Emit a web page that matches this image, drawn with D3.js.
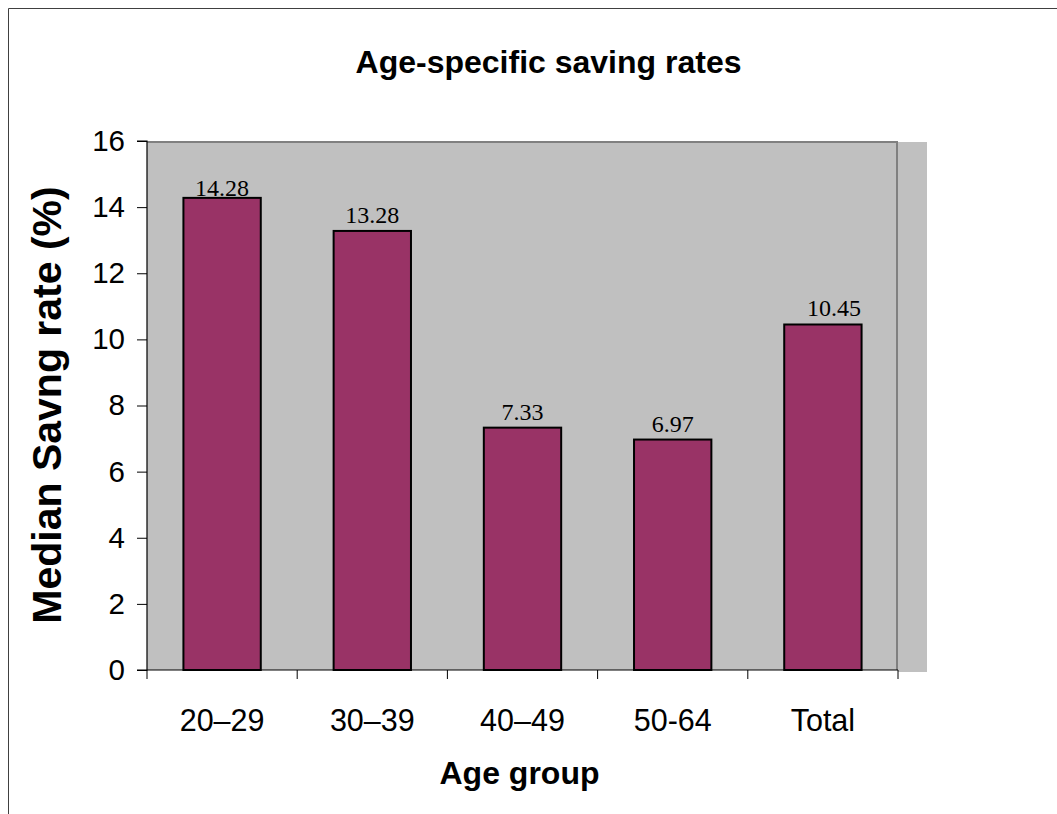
<!DOCTYPE html>
<html>
<head>
<meta charset="utf-8">
<script src="https://cdn.jsdelivr.net/npm/d3@7"></script>
<style>
  html, body { margin: 0; padding: 0; background: #ffffff; }
  svg { display: block; }
</style>
</head>
<body>
<svg id="chart" width="1057" height="814"></svg>
<script>
// Median saving rate by age group
const categories = ["20\u201329", "30\u201339", "40\u201349", "50-64", "Total"];
const values = [14.28, 13.28, 7.33, 6.97, 10.45];
const yTicks = [0, 2, 4, 6, 8, 10, 12, 14, 16];

const titleText = "Age-specific saving rates";
const xTitle = "Age group";
const yTitle = "Median Savng rate (%)";

// Hand-placed data labels (pixel nudges relative to the default spot)
const labelNudge = { "20\u201329": [0, 6], "Total": [11, 0] };

const svg = d3.select("#chart");

// Plot area
const plot = { left: 147, top: 141, right: 898, bottom: 670 };

// Outer chart frame (top and left edges visible)
svg.append("path")
  .attr("d", "M8.5,814 L8.5,8.5 L1057,8.5")
  .attr("fill", "none")
  .attr("stroke", "#404040")
  .attr("stroke-width", 1);

const x = d3.scaleBand()
  .domain(categories)
  .range([plot.left, plot.right])
  .paddingInner(0.485)
  .paddingOuter(0.2425);

const y = d3.scaleLinear()
  .domain([0, 16])
  .range([plot.bottom, plot.top]);

// Grey strip right of the plot area
svg.append("rect")
  .attr("x", plot.right)
  .attr("y", plot.top + 1)
  .attr("width", 29)
  .attr("height", plot.bottom - plot.top + 1)
  .attr("fill", "#c0c0c0");

// Plot background
svg.append("rect")
  .attr("x", plot.left)
  .attr("y", plot.top)
  .attr("width", plot.right - plot.left)
  .attr("height", plot.bottom - plot.top)
  .attr("fill", "#c0c0c0");

// Plot frame: top and right edges
svg.append("path")
  .attr("d", `M${plot.left},${plot.top + 1} L${plot.right - 1},${plot.top + 1} L${plot.right - 1},${plot.bottom}`)
  .attr("fill", "none")
  .attr("stroke", "#808080")
  .attr("stroke-width", 2);

// Bars
svg.append("g").selectAll("rect")
  .data(values)
  .join("rect")
  .attr("x", (d, i) => x(categories[i]))
  .attr("y", d => y(d))
  .attr("width", x.bandwidth())
  .attr("height", d => y(0) - y(d))
  .attr("fill", "#993366")
  .attr("stroke", "#000000")
  .attr("stroke-width", 2);

// Value labels
svg.append("g").selectAll("text")
  .data(values)
  .join("text")
  .attr("x", (d, i) => x(categories[i]) + x.bandwidth() / 2 + (labelNudge[categories[i]] || [0, 0])[0])
  .attr("y", (d, i) => y(d) - 8 + (labelNudge[categories[i]] || [0, 0])[1])
  .attr("text-anchor", "middle")
  .attr("font-family", "'Liberation Serif', 'Times New Roman', serif")
  .attr("font-size", 24)
  .attr("fill", "#000")
  .text(d => d.toFixed(2));

// Y axis
const yAxis = d3.axisLeft(y)
  .tickValues(yTicks)
  .tickSize(10)
  .tickPadding(12)
  .tickFormat(d3.format("d"));

const gy = svg.append("g")
  .attr("transform", `translate(${plot.left},0)`)
  .call(yAxis);
gy.select(".domain").attr("stroke", "#000").attr("stroke-width", 1.2)
  .attr("d", `M-10,${plot.top}H0V${plot.bottom}H-10`);
gy.selectAll(".tick line").attr("stroke", "#000");
gy.selectAll(".tick text")
  .attr("font-family", "Arial, 'Liberation Sans', sans-serif")
  .attr("font-size", 29.5)
  .attr("fill", "#000");

// X axis: ticks at category boundaries
const xAxis = d3.axisBottom(x).tickSize(0).tickPadding(0);
const gx = svg.append("g")
  .attr("transform", `translate(0,${plot.bottom})`)
  .call(xAxis);
gx.select(".domain").attr("stroke", "#000").attr("stroke-width", 1.2)
  .attr("d", `M${plot.left},0H${plot.right}`);
gx.selectAll(".tick text")
  .attr("font-family", "Arial, 'Liberation Sans', sans-serif")
  .attr("font-size", 30.5)
  .attr("fill", "#000")
  .attr("dy", 0)
  .attr("y", 61);

const step = x.step();
const boundaries = d3.range(categories.length + 1).map(i => plot.left + i * step);
gx.append("g").selectAll("line")
  .data(boundaries)
  .join("line")
  .attr("x1", d => d).attr("x2", d => d)
  .attr("y1", 0).attr("y2", 9)
  .attr("stroke", "#000")
  .attr("stroke-width", 1);

// Titles
svg.append("text")
  .attr("x", 548.5)
  .attr("y", 73)
  .attr("text-anchor", "middle")
  .attr("font-family", "Arial, 'Liberation Sans', sans-serif")
  .attr("font-weight", "bold")
  .attr("font-size", 32)
  .attr("fill", "#000")
  .text(titleText);

svg.append("text")
  .attr("x", 519.5)
  .attr("y", 784)
  .attr("text-anchor", "middle")
  .attr("font-family", "Arial, 'Liberation Sans', sans-serif")
  .attr("font-weight", "bold")
  .attr("font-size", 32)
  .attr("fill", "#000")
  .text(xTitle);

svg.append("text")
  .attr("transform", "translate(61,405) rotate(-90)")
  .attr("text-anchor", "middle")
  .attr("font-family", "Arial, 'Liberation Sans', sans-serif")
  .attr("font-weight", "bold")
  .attr("font-size", 41)
  .attr("fill", "#000")
  .text(yTitle);
</script>
</body>
</html>
